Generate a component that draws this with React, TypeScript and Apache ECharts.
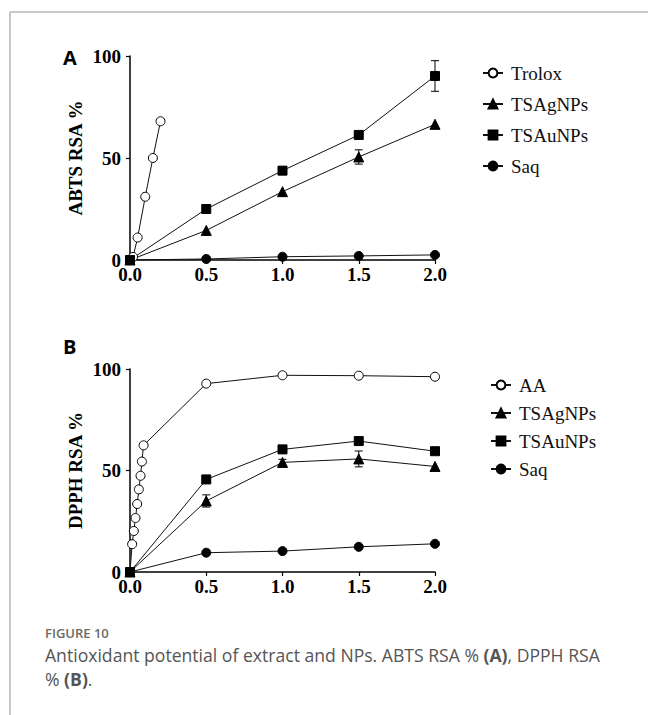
import React, { useEffect, useRef } from 'react';
import * as echarts from 'echarts';

// ---------- data ----------
const xTickInterval = 0.5;
const yTickInterval = 50;

// Panel A: ABTS RSA %
const troloxX = [0, 0.02, 0.05, 0.1, 0.15, 0.2];
const troloxY = [0, 1.5, 11, 31, 50, 68];
const npX = [0, 0.5, 1.0, 1.5, 2.0];
const abtsAgY = [0, 14.5, 33.5, 50.5, 66.5];
const abtsAuY = [0, 25, 43.8, 61.3, 90.2];
const abtsSaqY = [0, 0.5, 1.6, 2.0, 2.5];
const abtsAgErr = [0, 0, 0, 3.5, 0];
const abtsAuErr = [0, 0, 0, 0, 7.5];

// Panel B: DPPH RSA %
const aaX = [0, 0.014, 0.025, 0.036, 0.047, 0.058, 0.069, 0.078, 0.089, 0.5, 1.0, 1.5, 2.0];
const aaY = [0, 13.7, 20.2, 26.6, 33.5, 40.7, 47.4, 54.4, 62.4, 92.8, 96.9, 96.7, 96.2];
const dpphAgY = [0, 35, 54, 55.7, 52];
const dpphAuY = [0, 45.6, 60.4, 64.5, 59.5];
const dpphSaqY = [0, 9.5, 10.3, 12.4, 13.9];
const dpphAgErr = [0, 3, 1.5, 3.9, 0];

const legendA = ['Trolox', 'TSAgNPs', 'TSAuNPs', 'Saq'];
const legendB = ['AA', 'TSAgNPs', 'TSAuNPs', 'Saq'];

const SERIF = '"Liberation Serif", "Times New Roman", serif';

function pairs(xs: number[], ys: number[]) {
  return xs.map((x, i) => [x, ys[i]]);
}
function errData(xs: number[], ys: number[], errs: number[]) {
  const out: number[][] = [];
  xs.forEach((x, i) => {
    if (errs[i] > 0) out.push([x, ys[i] - errs[i], ys[i] + errs[i]]);
  });
  return out;
}

function lineSeries(name: string, data: number[][], symbol: string, fill: string, idx: number) {
  return {
    type: 'line',
    name,
    data,
    xAxisIndex: idx,
    yAxisIndex: idx,
    symbol,
    symbolSize: symbol === 'triangle' ? 10 : 9,
    showSymbol: true,
    showAllSymbol: true,
    silent: true,
    z: 3,
    lineStyle: { color: '#111', width: 1 },
    itemStyle: { color: fill, borderColor: '#000', borderWidth: 1 },
    emphasis: { disabled: true },
  };
}

function errSeries(data: number[][], idx: number) {
  return {
    type: 'custom',
    xAxisIndex: idx,
    yAxisIndex: idx,
    silent: true,
    z: 2,
    data,
    encode: { x: 0, y: [1, 2] },
    renderItem: (_p: any, api: any) => {
      const x = api.value(0);
      const hi = api.coord([x, api.value(2)]);
      const lo = api.coord([x, api.value(1)]);
      const w = 4;
      const st = { stroke: '#000', lineWidth: 1 };
      return {
        type: 'group',
        children: [
          { type: 'line', shape: { x1: hi[0], y1: hi[1], x2: lo[0], y2: lo[1] }, style: st },
          { type: 'line', shape: { x1: hi[0] - w, y1: hi[1], x2: hi[0] + w, y2: hi[1] }, style: st },
          { type: 'line', shape: { x1: lo[0] - w, y1: lo[1], x2: lo[0] + w, y2: lo[1] }, style: st },
        ],
      };
    },
  };
}

function xAxis(idx: number) {
  return {
    type: 'value',
    gridIndex: idx,
    min: 0,
    max: 2,
    interval: xTickInterval,
    axisLine: { show: true, onZero: false, lineStyle: { color: '#000', width: 1.5 } },
    axisTick: { show: true, length: 4, lineStyle: { color: '#000', width: 1.2 } },
    axisLabel: {
      formatter: (v: number) => v.toFixed(1),
      fontFamily: SERIF,
      fontWeight: 'bold',
      fontSize: 19,
      color: '#000',
      margin: 5,
    },
    splitLine: { show: false },
  };
}

function yAxis(idx: number, name: string) {
  return {
    type: 'value',
    gridIndex: idx,
    min: 0,
    max: 100,
    interval: yTickInterval,
    name,
    nameLocation: 'middle',
    nameGap: 45,
    nameTextStyle: { fontFamily: SERIF, fontWeight: 'bold', fontSize: 19, color: '#000' },
    axisLine: { show: true, lineStyle: { color: '#000', width: 1.5 } },
    axisTick: { show: true, length: 4, lineStyle: { color: '#000', width: 1.2 } },
    axisLabel: { fontFamily: SERIF, fontWeight: 'bold', fontSize: 19, color: '#000', margin: 9 },
    splitLine: { show: false },
  };
}

function legend(data: string[], left: number, top: number, gap: number) {
  return {
    data,
    orient: 'vertical',
    left,
    top,
    itemWidth: 20,
    itemHeight: 11,
    itemGap: gap,
    selectedMode: false,
    textStyle: { fontFamily: SERIF, fontSize: 19, color: '#111', lineHeight: 20, padding: [0, 0, 0, 3] },
  };
}

export default function App() {
  const ref = useRef<HTMLDivElement>(null);

  useEffect(() => {
    if (!ref.current) return;
    const chart = echarts.init(ref.current, undefined, { renderer: 'svg' });
    const option: any = {
      animation: false,
      backgroundColor: '#fff',
      grid: [
        { left: 130, top: 56, width: 305, height: 204 },
        { left: 130, top: 369, width: 305, height: 203 },
      ],
      xAxis: [xAxis(0), xAxis(1)],
      yAxis: [yAxis(0, 'ABTS RSA %'), yAxis(1, 'DPPH RSA %')],
      legend: [legend(legendA, 477, 58, 11), legend(legendB, 485, 370, 8)],
      series: [
        lineSeries('Trolox', pairs(troloxX, troloxY), 'circle', '#fff', 0),
        lineSeries('TSAgNPs', pairs(npX, abtsAgY), 'triangle', '#000', 0),
        lineSeries('TSAuNPs', pairs(npX, abtsAuY), 'rect', '#000', 0),
        lineSeries('Saq', pairs(npX, abtsSaqY), 'circle', '#000', 0),
        errSeries(errData(npX, abtsAgY, abtsAgErr), 0),
        errSeries(errData(npX, abtsAuY, abtsAuErr), 0),
        lineSeries('AA', pairs(aaX, aaY), 'circle', '#fff', 1),
        lineSeries('TSAgNPs', pairs(npX, dpphAgY), 'triangle', '#000', 1),
        lineSeries('TSAuNPs', pairs(npX, dpphAuY), 'rect', '#000', 1),
        lineSeries('Saq', pairs(npX, dpphSaqY), 'circle', '#000', 1),
        errSeries(errData(npX, dpphAgY, dpphAgErr), 1),
      ],
      graphic: [
        { type: 'line', shape: { x1: 10, y1: 12, x2: 648, y2: 12 }, style: { stroke: '#b5b5b5', lineWidth: 1.5 }, silent: true },
        { type: 'line', shape: { x1: 10, y1: 12, x2: 10, y2: 715 }, style: { stroke: '#b5b5b5', lineWidth: 1.5 }, silent: true },
        {
          type: 'text', left: 63, top: 47,
          style: { text: 'A', fontFamily: '"Open Sans", "Noto Sans", sans-serif', fontWeight: 'bold', fontSize: 20, fill: '#000' },
        },
        {
          type: 'text', left: 63, top: 336,
          style: { text: 'B', fontFamily: '"Open Sans", "Noto Sans", sans-serif', fontWeight: 'bold', fontSize: 20, fill: '#000' },
        },
        {
          type: 'text', left: 45, top: 626,
          style: { text: 'FIGURE 10', fontFamily: '"Open Sans", sans-serif', fontWeight: 600, fontSize: 13, fill: '#6a6a6a' },
        },
        {
          type: 'text', left: 45, top: 646,
          style: {
            text: '{n|Antioxidant potential of extract and NPs. ABTS RSA % }{b|(A)}{n|, DPPH RSA}\n{n|% }{b|(B)}{n|.}',
            rich: {
              n: { fontFamily: '"Open Sans", sans-serif', fontWeight: 400, fontSize: 17.6, fill: '#555', lineHeight: 24 },
              b: { fontFamily: '"Open Sans", sans-serif', fontWeight: 'bold', fontSize: 17.6, fill: '#555', lineHeight: 24 },
            },
          },
        },
      ],
    };
    chart.setOption(option);
    return () => chart.dispose();
  }, []);

  return (
    <div
      ref={ref}
      style={{ position: 'absolute', left: 0, top: 0, width: 648, height: 715, background: '#fff' }}
    />
  );
}
